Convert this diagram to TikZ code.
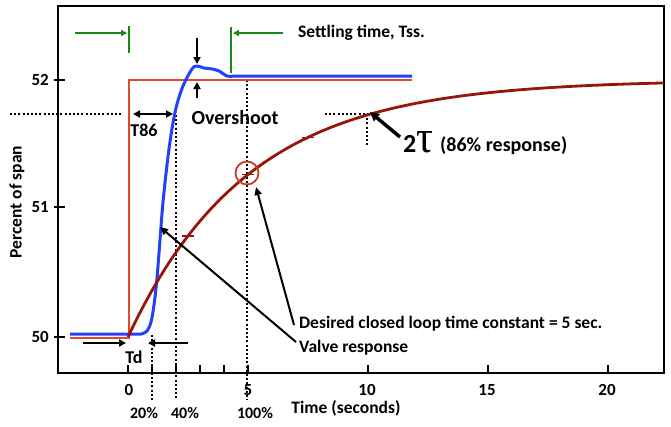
\documentclass[tikz,border=0pt]{standalone}
\usepackage{graphicx}
\usepackage{fontspec}
\setmainfont{Carlito}
\newfontfamily\greekfont{Liberation Serif}
\usetikzlibrary{arrows.meta}

\definecolor{setpt}{RGB}{225,74,40}
\definecolor{valve}{RGB}{35,65,250}
\definecolor{firstord}{RGB}{150,22,12}
\definecolor{tsgreen}{RGB}{25,135,25}

\newcommand\fsz[1]{\bfseries\fontsize{#1}{#1}\selectfont}

\tikzset{
  lbl/.style={font=\fsz{17.5}, inner sep=0pt},
  ticklbl/.style={font=\fsz{17}, inner sep=0pt},
  pctlbl/.style={font=\fsz{16}, inner sep=0pt},
  dots/.style={line width=1.9pt, dash pattern=on 1.9pt off 2.3pt},
  blkarrow/.style={line width=2pt, -{Triangle[length=7pt,width=7pt]}},
  grnarrow/.style={draw=tsgreen, fill=tsgreen, line width=1.5pt, -{Triangle[length=6pt,width=6pt]}},
  grnbar/.style={draw=tsgreen, line width=1.5pt},
  pointer/.style={line width=2pt, -{Triangle[length=8pt,width=7pt]}},
}

\begin{document}
\begin{tikzpicture}[x=1pt,y=-1pt]
\useasboundingbox (0,0) rectangle (671,426);

% plot frame and ticks
\draw[line width=2pt] (58,6) rectangle (664,373);
\foreach \t in {0,1,2,3,4,5,10,15,20}
  \draw[line width=2pt] ({127.5+24*\t},365) -- ({127.5+24*\t},373);
\foreach \yy in {80,207,337}
  \draw[line width=2pt] (54,\yy) -- (65,\yy);

% axis labels
\node[ticklbl, anchor=east] (y52) at (49,80) {52};
\node[ticklbl, anchor=east] (y51) at (49,207) {51};
\node[ticklbl, anchor=east] (y50) at (49,337) {50};
\node[ticklbl] (x0) at (129,390) {0};
\node[ticklbl] (x5) at (248,390) {5};
\node[ticklbl] (x10) at (367,390) {10};
\node[ticklbl] (x15) at (487,390) {15};
\node[ticklbl] (x20) at (607,390) {20};
\node[lbl] (xlab) at (346,408) {Time (seconds)};
\node[lbl, rotate=90, font=\fsz{17.5}] (ylab) at (17,202) {Percent of span};
\node[pctlbl] (p20) at (144,413) {20\%};
\node[pctlbl] (p40) at (185,413) {40\%};
\node[pctlbl] (p100) at (255,413) {100\%};

% dotted guide lines
\draw[dots] (10,114) -- (122,114);
\draw[dots] (152,335) -- (152,400);
\draw[dots] (176,115) -- (176,400);
\draw[dots] (247,80) -- (247,400);
\draw[dots] (325,114) -- (367,114) -- (367,145);

% setpoint step
\draw[setpt, line width=2pt] (70,338) -- (129,338) -- (129,80) -- (412,80);

% valve response
\draw[valve, line width=3pt, line join=round]
  (70,334) -- (141,334)
  plot[smooth, tension=0.55] coordinates {(141,334) (147,331) (151,322) (154,305) (157,278) (160,240) (163,202) (167,165) (171,135) (176,108) (183,86) (192,69) (197,66) (204,68) (212,69) (219,71) (227,76) (234,76)}
  -- (412,76);

% first order response, tau = 5 s
\draw[firstord, line width=2.8pt]
  plot[domain=0:22.35, samples=120] ({128+24*\x},{337-257*(1-exp(-\x/5))});
\foreach \t in {2.5,5,7.5}
  \draw[firstord, line width=1.4pt]
    ({128+24*\t-6},{337-257*(1-exp(-\t/5))}) -- ({128+24*\t+6},{337-257*(1-exp(-\t/5))});
\draw[setpt!85!black, line width=1.8pt] (247,173) circle (11.5);

% settling time markers
\coordinate (gA0) at (75,33);
\coordinate (gA1) at (127,33);
\draw[grnarrow] (gA0) -- (gA1);
\draw[grnbar] (129,26) -- (129,53);
\coordinate (gB0) at (283,33);
\coordinate (gB1) at (233,33);
\draw[grnarrow] (gB0) -- (gB1);
\draw[grnbar] (231,27) -- (231,73);
\node[lbl, anchor=west] (tss) at (298,33) {Settling time, Tss.};

% overshoot
\coordinate (o1) at (197,38);
\coordinate (o2) at (197,64);
\coordinate (o3) at (197,98);
\coordinate (o4) at (197,82);
\draw[blkarrow] (o1) -- (o2);
\draw[blkarrow] (o3) -- (o4);
\node[lbl, font=\fsz{20}] (over) at (235,118) {Overshoot};

% T86
\coordinate (t1) at (133,114);
\coordinate (t2) at (173,114);
\draw[line width=2pt, {Triangle[length=7pt,width=7pt]}-{Triangle[length=7pt,width=7pt]}] (t1) -- (t2);
\node[lbl, font=\fsz{18}] (t86) at (144,130) {T86};

% dead time
\coordinate (d1) at (83,343);
\coordinate (d2) at (126,343);
\coordinate (d3) at (188,343);
\coordinate (d4) at (148,343);
\draw[blkarrow] (d1) -- (d2);
\draw[blkarrow] (d3) -- (d4);
\node[lbl, font=\fsz{18}] (td) at (134,357) {Td};

% annotations
\node[lbl, anchor=west] (des) at (299,324) {Desired closed loop time constant = 5 sec.};
\node[lbl, anchor=west] (vr) at (299,348) {Valve response};
\coordinate (desTip) at (256,187);
\coordinate (vrTip) at (160,227);
\draw[pointer] (des.west) ++(-5,1) coordinate (desTail) (desTail) -- (desTip);
\draw[pointer] (vr.west) ++(-3,-6) coordinate (vrTail) (vrTail) -- (vrTip);

% two time constants
\coordinate (tauTail) at (400,137);
\coordinate (tauTip) at (370,112);
\draw[line width=3.5pt, -{Triangle[length=9pt,width=9pt]}] (tauTail) -- (tauTip);
\node[lbl, anchor=base west, font=\fsz{26}] (tau) at (403,152) {2\resizebox{17pt}{21pt}{\greekfont\mdseries τ}};
\node[lbl, anchor=west, font=\fsz{20}] (resp) at (440,146) {(86\% response)};
\end{tikzpicture}
\end{document}
